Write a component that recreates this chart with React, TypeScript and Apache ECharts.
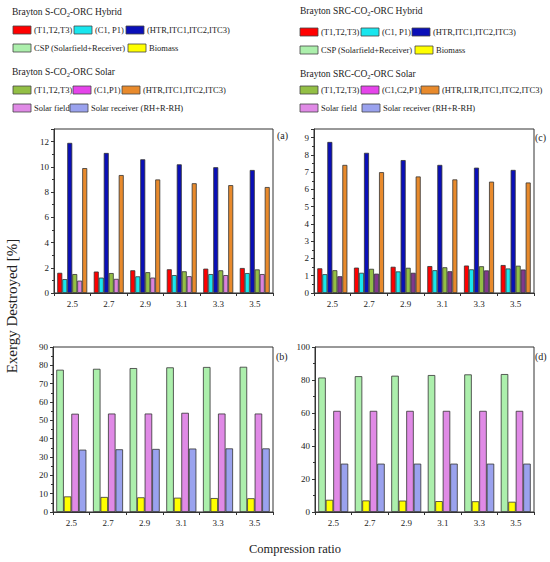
import React, { useEffect, useRef } from 'react';
import * as echarts from 'echarts';

// ---------- data ----------
const categories = ['2.5', '2.7', '2.9', '3.1', '3.3', '3.5'];

// (a) Brayton S-CO2-ORC : components
const aHybridT = [1.6, 1.7, 1.8, 1.88, 1.93, 1.98];
const aHybridC = [1.1, 1.22, 1.32, 1.42, 1.5, 1.58];
const aHybridHTR = [11.9, 11.1, 10.6, 10.2, 9.97, 9.75];
const aSolarT = [1.5, 1.58, 1.65, 1.72, 1.8, 1.87];
const aSolarC = [0.98, 1.12, 1.22, 1.33, 1.42, 1.5];
const aSolarHTR = [9.9, 9.35, 9.0, 8.7, 8.55, 8.4];

// (c) Brayton SRC-CO2-ORC : components
const cHybridT = [1.43, 1.47, 1.52, 1.56, 1.59, 1.62];
const cHybridC = [1.09, 1.17, 1.25, 1.32, 1.37, 1.42];
const cHybridHTR = [8.75, 8.12, 7.7, 7.42, 7.26, 7.13];
const cSolarT = [1.32, 1.4, 1.46, 1.49, 1.55, 1.58];
const cSolarC = [0.97, 1.12, 1.17, 1.26, 1.31, 1.36];
const cSolarHTR = [7.42, 7.0, 6.75, 6.58, 6.45, 6.4];

// (b) Brayton S-CO2-ORC : heat sources
const bCSP = [77.6, 78.1, 78.5, 78.9, 79.1, 79.2];
const bBiomass = [8.5, 8.2, 8.0, 7.8, 7.6, 7.5];
const bSolarField = [53.6, 53.7, 53.7, 54.1, 53.7, 53.7];
const bSolarReceiver = [34.0, 34.2, 34.4, 34.6, 34.7, 34.7];

// (d) Brayton SRC-CO2-ORC : heat sources
const dCSP = [81.5, 82.3, 82.6, 83.0, 83.4, 83.6];
const dBiomass = [7.4, 7.0, 6.9, 6.6, 6.5, 6.2];
const dSolarField = [61.3, 61.3, 61.3, 61.3, 61.3, 61.3];
const dSolarReceiver = [29.3, 29.3, 29.3, 29.3, 29.3, 29.3];

// legend labels
const leftHybridLabels = ['(T1,T2,T3)', '(C1, P1)', '(HTR,ITC1,ITC2,ITC3)'];
const leftSolarLabels = ['(T1,T2,T3)', '(C1,P1)', '(HTR,ITC1,ITC2,ITC3)'];
const rightHybridLabels = ['(T1,T2,T3)', '(C1, P1)', '(HTR,ITC1,ITC2,ITC3)'];
const rightSolarLabels = ['(T1,T2,T3)', '(C1,C2,P1)', '(HTR,LTR,ITC1,ITC2,ITC3)'];
const sourceLabels = ['CSP (Solarfield+Receiver)', 'Biomass'];
const solarSourceLabels = ['Solar field', 'Solar receiver (RH+R-RH)'];

// ---------- styles ----------
const FONT = 'Liberation Serif';
const C = {
  red: '#ff0000',
  cyan: '#19e6ee',
  blue: '#0a0fb8',
  csp: '#acefac',
  yellow: '#ffff00',
  olive: '#93bf45',
  magenta: '#e544ea',
  orange: '#e88a2c',
  field: '#e08ae6',
  receiver: '#9aa2ee',
  pinkBar: '#dc82dc',
  purpleBar: '#80388c',
};

const App: React.FC = () => {
  const ref = useRef<HTMLDivElement>(null);

  useEffect(() => {
    if (!ref.current) return;
    const chart = echarts.init(ref.current, undefined, { renderer: 'svg' });

    const grids = [
      { left: 54, top: 129, width: 219, height: 164 },
      { left: 314, top: 129, width: 220, height: 164 },
      { left: 53, top: 347, width: 220, height: 165 },
      { left: 315, top: 347, width: 219, height: 165 },
    ].map((g) => ({ ...g, show: true, borderColor: '#333', borderWidth: 1, backgroundColor: 'transparent' }));

    const xAxes = [0, 1, 2, 3].map((i) => ({
      type: 'category' as const,
      gridIndex: i,
      data: categories,
      axisLine: { lineStyle: { color: '#333', width: 1 } },
      axisTick: { show: true, length: 3, lineStyle: { color: '#333' } },
      axisLabel: { fontFamily: FONT, fontSize: 9, color: '#222', margin: 6 },
    }));

    const yBase = (i: number, max: number, interval: number, showMax: boolean) => ({
      type: 'value' as const,
      gridIndex: i,
      min: 0,
      max,
      interval,
      splitLine: { show: false },
      axisLine: { show: true, lineStyle: { color: '#333', width: 1 } },
      axisTick: { show: true, length: 3, lineStyle: { color: '#333' } },
      minorTick: { show: true, splitNumber: 2, length: 2, lineStyle: { color: '#333' } },
      axisLabel: { fontFamily: FONT, fontSize: 9, color: '#222', margin: 5, showMaxLabel: showMax },
    });

    const yAxes = [
      yBase(0, 13, 2, false),
      yBase(1, 9.5, 1, false),
      yBase(2, 90, 10, true),
      yBase(3, 100, 20, true),
    ];

    const bar = (name: string, data: number[], color: string, idx: number) => ({
      name,
      type: 'bar' as const,
      xAxisIndex: idx,
      yAxisIndex: idx,
      data,
      barGap: '0%',
      barCategoryGap: '18%',
      itemStyle: { color, borderColor: '#333', borderWidth: 0.8 },
    });

    const series = [
      bar('a Hybrid (T1,T2,T3)', aHybridT, C.red, 0),
      bar('a Hybrid (C1, P1)', aHybridC, C.cyan, 0),
      bar('a Hybrid (HTR,ITC1,ITC2,ITC3)', aHybridHTR, C.blue, 0),
      bar('a Solar (T1,T2,T3)', aSolarT, C.olive, 0),
      bar('a Solar (C1,P1)', aSolarC, C.pinkBar, 0),
      bar('a Solar (HTR,ITC1,ITC2,ITC3)', aSolarHTR, C.orange, 0),

      bar('c Hybrid (T1,T2,T3)', cHybridT, C.red, 1),
      bar('c Hybrid (C1, P1)', cHybridC, C.cyan, 1),
      bar('c Hybrid (HTR,ITC1,ITC2,ITC3)', cHybridHTR, C.blue, 1),
      bar('c Solar (T1,T2,T3)', cSolarT, C.olive, 1),
      bar('c Solar (C1,C2,P1)', cSolarC, C.purpleBar, 1),
      bar('c Solar (HTR,LTR,ITC1,ITC2,ITC3)', cSolarHTR, C.orange, 1),

      bar('b CSP', bCSP, C.csp, 2),
      bar('b Biomass', bBiomass, C.yellow, 2),
      bar('b Solar field', bSolarField, C.field, 2),
      bar('b Solar receiver', bSolarReceiver, C.receiver, 2),

      bar('d CSP', dCSP, C.csp, 3),
      bar('d Biomass', dBiomass, C.yellow, 3),
      bar('d Solar field', dSolarField, C.field, 3),
      bar('d Solar receiver', dSolarReceiver, C.receiver, 3),
    ];

    // ---------- legend graphics ----------
    const g: any[] = [];
    const sw = (x: number, y: number, color: string) =>
      g.push({
        type: 'rect',
        shape: { x, y: y - 4, width: 18, height: 8 },
        style: { fill: color, stroke: '#444', lineWidth: 0.8 },
        silent: true,
      });
    const txt = (x: number, y: number, text: string, size = 8.5) =>
      g.push({
        type: 'text',
        x,
        y,
        style: { text, fontFamily: FONT, fontSize: size, fill: '#222', verticalAlign: 'middle', align: 'left' },
        silent: true,
      });
    const title = (x: number, y: number, pre: string, post: string) =>
      g.push({
        type: 'text',
        x,
        y,
        style: {
          text: `{n|${pre}}{s|2}{n|${post}}`,
          fontFamily: FONT,
          verticalAlign: 'middle',
          rich: {
            n: { fontFamily: FONT, fontSize: 9.5, fill: '#222', lineHeight: 13, verticalAlign: 'middle' },
            s: { fontFamily: FONT, fontSize: 6.5, fill: '#222', lineHeight: 13, padding: [5, 0, 0, 0] },
          },
        },
        silent: true,
      });
    const item = (x: number, y: number, color: string, label: string) => {
      sw(x, y, color);
      txt(x + 21, y, label);
    };

    // left block
    title(12, 12, 'Brayton S-CO', '-ORC Hybrid');
    item(13, 30, C.red, leftHybridLabels[0]);
    item(74, 30, C.cyan, leftHybridLabels[1]);
    item(126, 30, C.blue, leftHybridLabels[2]);
    item(13, 48, C.csp, sourceLabels[0]);
    item(128, 48, C.yellow, sourceLabels[1]);
    title(12, 72, 'Brayton S-CO', '-ORC Solar');
    item(13, 90, C.olive, leftSolarLabels[0]);
    item(73, 90, C.magenta, leftSolarLabels[1]);
    item(122, 90, C.orange, leftSolarLabels[2]);
    item(13, 108, C.field, solarSourceLabels[0]);
    item(70, 108, C.receiver, solarSourceLabels[1]);

    // right block
    title(300, 11, 'Brayton SRC-CO', '-ORC Hybrid');
    item(300, 32, C.red, rightHybridLabels[0]);
    item(361, 32, C.cyan, rightHybridLabels[1]);
    item(412, 32, C.blue, rightHybridLabels[2]);
    item(300, 50, C.csp, sourceLabels[0]);
    item(415, 50, C.yellow, sourceLabels[1]);
    title(300, 74, 'Brayton SRC-CO', '-ORC Solar');
    item(300, 90, C.olive, rightSolarLabels[0]);
    item(361, 90, C.magenta, rightSolarLabels[1]);
    item(421, 90, C.orange, rightSolarLabels[2]);
    item(300, 108, C.field, solarSourceLabels[0]);
    item(362, 108, C.receiver, solarSourceLabels[1]);

    // panel labels
    txt(277, 135, '(a)', 10);
    txt(535, 137, '(c)', 10);
    txt(276, 356, '(b)', 10);
    txt(535, 356, '(d)', 10);

    // axis titles
    g.push({
      type: 'text',
      x: 12,
      y: 306,
      rotation: Math.PI / 2,
      style: {
        text: 'Exergy Destroyed [%]',
        fontFamily: FONT,
        fontSize: 15,
        fill: '#222',
        align: 'center',
        verticalAlign: 'middle',
      },
      silent: true,
    });
    g.push({
      type: 'text',
      x: 295,
      y: 549,
      style: {
        text: 'Compression ratio',
        fontFamily: FONT,
        fontSize: 12.5,
        fill: '#222',
        align: 'center',
        verticalAlign: 'middle',
      },
      silent: true,
    });

    chart.setOption({
      animation: false,
      backgroundColor: '#ffffff',
      textStyle: { fontFamily: FONT },
      grid: grids,
      xAxis: xAxes,
      yAxis: yAxes,
      series,
      graphic: g,
    });

    return () => chart.dispose();
  }, []);

  return (
    <div
      ref={ref}
      style={{ position: 'absolute', left: 0, top: 0, width: 550, height: 562, background: '#fff' }}
    />
  );
};

export default App;
